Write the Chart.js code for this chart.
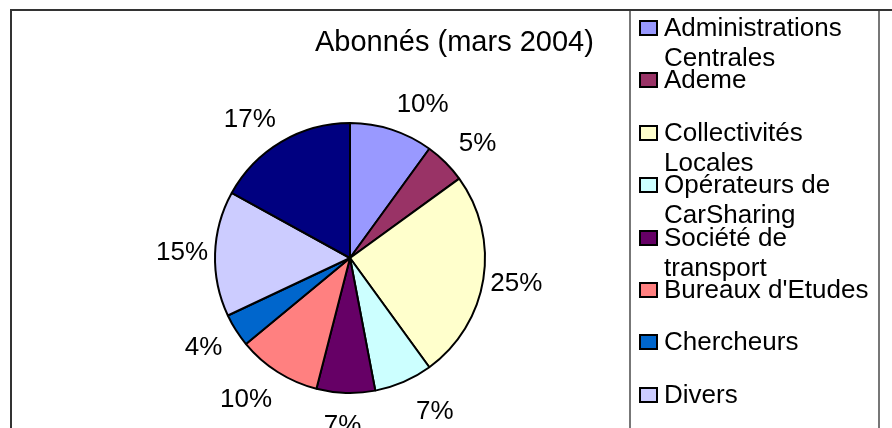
<!DOCTYPE html>
<html lang="fr">
<head>
    <meta charset="UTF-8">
    <title>Abonnés (mars 2004)</title>
    <script src="https://cdn.jsdelivr.net/npm/chart.js"></script>
    <style>
        html, body { margin: 0; padding: 0; background: #fff; overflow: hidden; }
        body { width: 892px; height: 428px; position: relative; font-family: "Liberation Sans", Arial, sans-serif; }
        .frame { position: absolute; left: 10px; top: 9px; right: 0; bottom: -10px;
                 border-top: 2px solid #333; border-left: 2px solid #333; }
        #graphe { position: absolute; left: 0; top: 0; }
        .titre { position: absolute; left: 315px; top: 25px; font-size: 29px; color: #000; white-space: nowrap; }
        .legende { position: absolute; left: 629px; top: 11px; width: 247px; bottom: -10px;
                   border-left: 2px solid #777; border-right: 2px solid #777; }
        .item { position: relative; height: 52.4px; }
        .item .carre { position: absolute; left: 8px; top: 9px; width: 15px; height: 12px; border: 2px solid #000; }
        .item .txt { position: absolute; left: 33px; top: 1px; width: 214px; font-size: 26px; line-height: 30px; color: #000; }
    </style>
</head>
<body>
    <div class="frame"></div>
    <canvas id="graphe" width="630" height="428"></canvas>
    <div class="titre">Abonnés (mars 2004)</div>
    <div class="legende" id="legende"></div>

    <script>
    // données
    const categories = [
        'Administrations Centrales',
        'Ademe',
        'Collectivités Locales',
        'Opérateurs de CarSharing',
        'Société de transport',
        "Bureaux d'Etudes",
        'Chercheurs',
        'Divers',
        'Autres'
    ];
    const pourcentages = [10, 5, 25, 7, 7, 10, 4, 15, 17];
    const couleurs = ['#9999FF', '#993366', '#FFFFCC', '#CCFFFF', '#660066', '#FF8080', '#0066CC', '#CCCCFF', '#000080'];

    // légende à droite
    const leg = document.getElementById('legende');
    categories.forEach((c, i) => {
        const d = document.createElement('div');
        d.className = 'item';
        d.innerHTML = '<span class="carre" style="background:' + couleurs[i] + '"></span><span class="txt">' + c + '</span>';
        leg.appendChild(d);
    });

    // étiquettes % autour du camembert (placement façon Excel)
    const etiquettes = {
        id: 'etiquettes',
        afterDatasetsDraw(chart) {
            const ctx = chart.ctx;
            const arcs = chart.getDatasetMeta(0).data;
            ctx.save();
            ctx.font = '26px "Liberation Sans", Arial, sans-serif';
            ctx.fillStyle = '#000';
            ctx.textAlign = 'center';
            ctx.textBaseline = 'middle';
            arcs.forEach((a, i) => {
                const p = a.getProps(['x', 'y', 'startAngle', 'endAngle', 'outerRadius'], true);
                const m = (p.startAngle + p.endAngle) / 2;
                const c = Math.cos(m), s = Math.sin(m);
                const r = p.outerRadius + 3;
                const dx = r * c + 30 * Math.sign(c) * Math.min(1, Math.abs(c) / 0.3);
                const dy = (p.outerRadius + 26) * s + 7 * Math.max(0, s);
                ctx.fillText(pourcentages[i] + '%', p.x + dx, p.y + dy);
            });
            ctx.restore();
        }
    };

    new Chart(document.getElementById('graphe').getContext('2d'), {
        type: 'pie',
        data: {
            labels: categories,
            datasets: [{
                data: pourcentages,
                backgroundColor: couleurs,
                borderColor: '#000',
                borderWidth: 2,
                hoverOffset: 0
            }]
        },
        options: {
            responsive: false,
            animation: false,
            layout: { padding: { left: 214, right: 144, top: 122, bottom: 34 } },
            plugins: {
                legend: { display: false },
                tooltip: { enabled: false },
                title: { display: false }
            }
        },
        plugins: [etiquettes]
    });
    </script>
</body>
</html>
